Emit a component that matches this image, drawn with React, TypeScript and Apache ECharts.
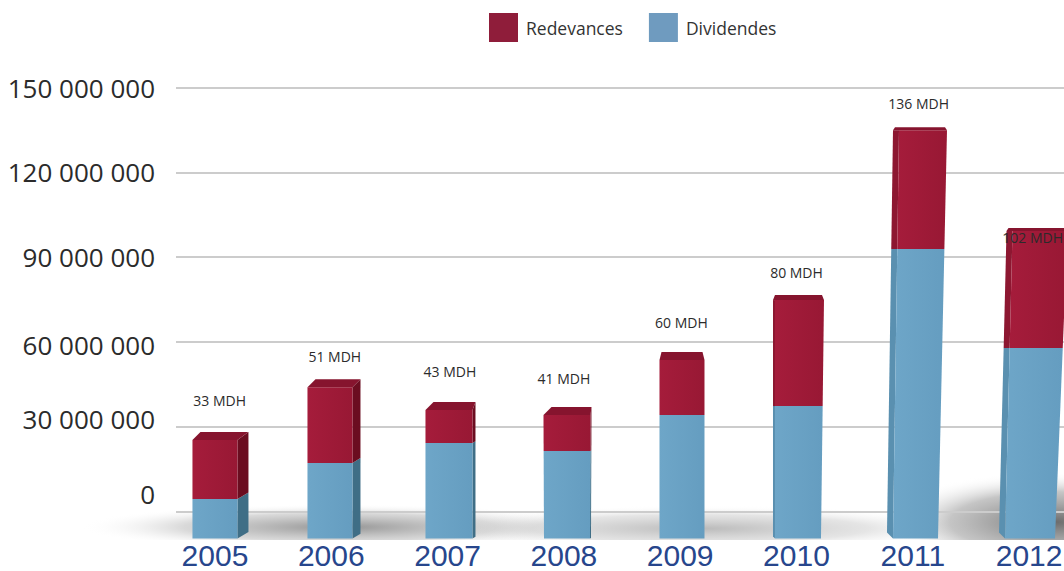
import React, { useEffect, useRef } from "react";
import * as echarts from "echarts";

const years = [2005, 2006, 2007, 2008, 2009, 2010, 2011, 2012];
const dividendes = [4.4e6, 17.2e6, 24.2e6, 21.4e6, 34.1e6, 37.3e6, 92.9e6, 57.8e6];
const redevances = [20.9e6, 26.8e6, 11.7e6, 12.7e6, 19.5e6, 37.5e6, 42.0e6, 41.4e6];
const totalLabels = ["33 MDH", "51 MDH", "43 MDH", "41 MDH", "60 MDH", "80 MDH", "136 MDH", "102 MDH"];
const labelLevels = [39.4e6, 54.7e6, 49.4e6, 46.9e6, 66.7e6, 84.7e6, 144.2e6, 97.1e6];
const labelYears = [2005.04, 2006.03, 2007.02, 2008.0, 2009.01, 2010.0, 2011.05, 2012.03];
const tickValues = [0, 30e6, 60e6, 90e6, 120e6, 150e6];
const tickLabels = ["0", "30 000 000", "60 000 000", "90 000 000", "120 000 000", "150 000 000"];

// perspective styling of the picture's pseudo-3D blocks, in pixels
const baseShift = [0, -1.3, 1.4, 3.1, 1.8, 1.5, 2.7, 0.9];
const topShift = [0, -1.3, 1.4, 3.1, 1.8, 3, 10.2, 10.9];
const baseWidth = [45, 45, 47, 46, 45, 46, 45, 50];
const topWidth = [45, 45, 47, 47, 45, 49, 48, 55];
const sideDepth = [11, 8, 3, 1, 0, -2, -6, -6];
const topDepth = [8, 8, 8, 8, 8, 5, 3, 3];

const AXIS_MIN = -9.55e6;
const RED = ["#a51c3b", "#981834"];
const RED_SIDE = "#6b0d20";
const RED_SIDE_LEFT = "#8d1731";
const RED_TOP = "#86142e";
const BLUE = ["#6ea6c8", "#659dc0"];
const BLUE_SIDE = "#3f6e86";
const BLUE_SIDE_LEFT = "#5a90b0";
const FONT = '"Open Sans", sans-serif';
const YEAR_FONT = '"Liberation Sans", sans-serif';

function blockRenderer(front: string[], side: string, sideLeft: string, withTop: boolean) {
  return (_params: any, api: any) => {
    const i = api.value(3) as number;
    const yr = api.value(0) as number;
    const base = api.coord([yr, AXIS_MIN]);
    const total = api.coord([yr, dividendes[i] + redevances[i]]);
    const low = api.coord([yr, api.value(1)]);
    const high = api.coord([yr, api.value(2)]);
    const edges = (y: number) => {
      const t = (base[1] - y) / (base[1] - total[1]);
      const c = base[0] + baseShift[i] + (topShift[i] - baseShift[i]) * t;
      const w = baseWidth[i] + (topWidth[i] - baseWidth[i]) * t;
      return [c - w / 2, c + w / 2];
    };
    const [l0, r0] = edges(low[1]);
    const [l1, r1] = edges(high[1]);
    const d = sideDepth[i];
    const h = topDepth[i];
    const riseLow = d > 0 ? d * 0.6 : low[1] === base[1] ? -d : 0;
    const riseHigh = withTop ? (d > 0 ? h : 0) : d > 0 ? d * 0.6 : 0;
    const children: any[] = [];
    if (d !== 0) {
      const x0 = d > 0 ? r0 : l0;
      const x1 = d > 0 ? r1 : l1;
      children.push({
        type: "polygon",
        shape: { points: [[x0, low[1]], [x0 + d, low[1] - riseLow], [x1 + d, high[1] - riseHigh], [x1, high[1]]] },
        style: { fill: d > 0 ? side : sideLeft },
      });
    }
    children.push({
      type: "polygon",
      shape: { points: [[l0, low[1]], [r0, low[1]], [r1, high[1]], [l1, high[1]]] },
      style: {
        fill: new echarts.graphic.LinearGradient(0, 0, 1, 0, [
          { offset: 0, color: front[0] },
          { offset: 1, color: front[1] },
        ]),
      },
    });
    if (withTop) {
      const back = d > 0 ? d : 0;
      const inset = d > 0 ? 0 : 2;
      const left = l1 + (d < 0 ? d : 0);
      children.push({
        type: "polygon",
        shape: {
          points: [
            [left, high[1]],
            [r1, high[1]],
            [r1 + back - inset, high[1] - h],
            [left + (d > 0 ? 8 : 0) + inset, high[1] - h],
          ],
        },
        style: { fill: RED_TOP },
      });
    }
    return { type: "group", children };
  };
}

export default function App() {
  const ref = useRef<HTMLDivElement>(null);
  useEffect(() => {
    if (!ref.current) return;
    const chart = echarts.init(ref.current, undefined, { renderer: "svg" });
    const shadow = (x: number, y: number, width: number, height: number, cy: number, dark: string, mid: string) => ({
      type: "rect",
      z: 0,
      silent: true,
      shape: { x, y, width, height },
      style: {
        fill: new echarts.graphic.RadialGradient(0.5, cy, 0.5, [
          { offset: 0, color: dark },
          { offset: 0.6, color: mid },
          { offset: 1, color: "rgba(255,255,255,0)" },
        ]),
      },
    });
    chart.setOption({
      animation: false,
      backgroundColor: "#ffffff",
      graphic: [
        shadow(80, 494, 520, 46, 0.72, "rgba(120,120,120,0.8)", "rgba(170,170,170,0.45)"),
        shadow(420, 494, 560, 46, 0.75, "rgba(140,140,140,0.6)", "rgba(180,180,180,0.35)"),
        shadow(880, 440, 350, 100, 0.82, "rgba(100,100,100,0.95)", "rgba(150,150,150,0.55)"),
      ],
      legend: {
        left: 484,
        top: 8,
        itemWidth: 29,
        itemHeight: 29,
        itemGap: 26,
        selectedMode: false,
        textStyle: { color: "#333333", fontSize: 17.5, fontFamily: FONT, padding: [0, 0, 0, 3] },
        data: [
          { name: "Redevances", icon: "rect", itemStyle: { color: "#8f1d3a" } },
          { name: "Dividendes", icon: "rect", itemStyle: { color: "#6f9bbf" } },
        ],
      },
      grid: { left: 176, top: 87.5, width: 888, height: 451, containLabel: false, outerBoundsMode: "none" },
      xAxis: {
        type: "value",
        min: 2004.665,
        max: 2012.3,
        axisLine: { show: false },
        axisTick: { show: false },
        splitLine: { show: false },
        axisLabel: {
          customValues: years,
          margin: 2,
          color: "#27468c",
          fontSize: 30,
          fontFamily: YEAR_FONT,
          showMinLabel: true,
          showMaxLabel: true,
          formatter: (v: number) => String(v),
        },
      },
      yAxis: {
        type: "value",
        min: AXIS_MIN,
        max: 150e6,
        axisLine: { show: false },
        axisTick: { show: false, customValues: tickValues },
        splitLine: { show: true, lineStyle: { color: "#cccccc", width: 2 } },
        axisLabel: {
          customValues: tickValues,
          margin: 21,
          color: "#2b2b2b",
          fontSize: 26,
          fontFamily: FONT,
          formatter: (v: number) => {
            const text = tickLabels[tickValues.indexOf(v)];
            if (v === 0) return `{zero|${text}}`;
            if (v === 30e6) return `{thirty|${text}}`;
            if (v === 60e6) return `{sixty|${text}}`;
            return text;
          },
          rich: {
            zero: { fontSize: 26, fontFamily: FONT, color: "#2b2b2b", padding: [0, 0, 36, 0] },
            thirty: { fontSize: 26, fontFamily: FONT, color: "#2b2b2b", padding: [0, 0, 16, 0] },
            sixty: { fontSize: 26, fontFamily: FONT, color: "#2b2b2b", padding: [6, 0, 0, 0] },
          },
        },
      },
      series: [
        {
          name: "Dividendes",
          type: "custom",
          z: 3,
          clip: false,
          renderItem: blockRenderer(BLUE, BLUE_SIDE, BLUE_SIDE_LEFT, false),
          encode: { x: 0, y: [1, 2] },
          data: years.map((y, i) => [y, AXIS_MIN, dividendes[i], i]),
        },
        {
          name: "Redevances",
          type: "custom",
          z: 4,
          clip: false,
          renderItem: blockRenderer(RED, RED_SIDE, RED_SIDE_LEFT, true),
          encode: { x: 0, y: [1, 2] },
          data: years.map((y, i) => [y, dividendes[i], dividendes[i] + redevances[i], i]),
        },
        {
          name: "Totaux",
          type: "custom",
          z: 5,
          clip: false,
          renderItem: (_p: any, api: any) => {
            const i = api.value(2) as number;
            const pt = api.coord([api.value(0), api.value(1)]);
            return {
              type: "text",
              x: pt[0],
              y: pt[1],
              style: {
                text: totalLabels[i],
                fill: "#2b2b2b",
                font: `14px ${FONT}`,
                align: "center",
                verticalAlign: "middle",
              },
            };
          },
          encode: { x: 0, y: 1 },
          data: labelYears.map((x, i) => [x, labelLevels[i], i]),
        },
      ],
    });
    return () => chart.dispose();
  }, []);
  return <div ref={ref} style={{ position: "fixed", left: 0, top: 0, width: 1064, height: 571 }} />;
}
